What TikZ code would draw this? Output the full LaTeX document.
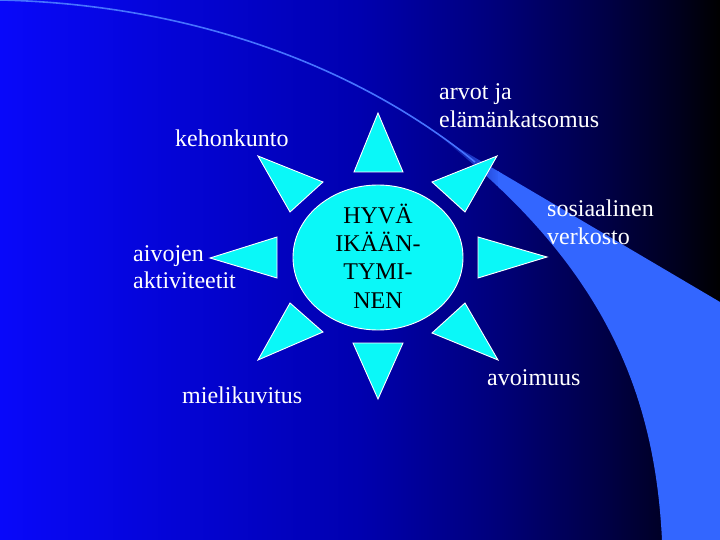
\documentclass[tikz,border=0pt]{standalone}
\usepackage{fontspec}
\setmainfont{Liberation Serif}
\usetikzlibrary{fadings}
\definecolor{bgA}{RGB}{8,8,250}
\definecolor{bgB}{RGB}{0,0,175}
\definecolor{bgC}{RGB}{0,0,125}
\definecolor{bgD}{RGB}{0,0,70}
\definecolor{bgE}{RGB}{0,0,30}
\definecolor{bandcol}{RGB}{51,102,255}
\definecolor{linecol}{RGB}{70,115,255}
\definecolor{suncyan}{RGB}{10,248,248}
\pgfdeclarehorizontalshading{bgshade}{100bp}{color(0bp)=(bgA); color(25bp)=(bgA); color(50bp)=(bgB); color(59bp)=(bgC); color(67bp)=(bgD); color(72bp)=(bgE); color(75bp)=(black); color(100bp)=(black)}
\tikzfading[name=tipfade, left color=transparent!100, right color=transparent!0]
\newcommand{\twolines}[2]{\vtop{\baselineskip=28pt\hbox{#1}\hbox{#2}}}
\newcommand{\cenline}[1]{\hbox to 0pt{\hss #1\hss}}
\begin{document}
\begin{tikzpicture}[x=1pt,y=-1pt,
  ray/.style={fill=suncyan, draw=white, line width=0.9pt, line join=miter},
  lbl/.style={text=white, inner sep=0pt, anchor=base west, font=\fontsize{24}{28}\selectfont}]
\useasboundingbox (0,0) rectangle (720,540);
% background
\shade[shading=bgshade] (0,0) rectangle (720,540);
% swoosh band
\begin{scope}
  \clip (440,137) -- (720,302) -- (720,540) -- (662,540)
        .. controls (655,400) and (610,270) .. (440,137) -- cycle;
  \fill[bandcol] (498,100) rectangle (720,540);
  \fill[bandcol, path fading=tipfade] (440,100) rectangle (500,260);
\end{scope}
\draw[linecol, line width=1.6pt] (0,0) .. controls (180,4) and (350,60) .. (475,162);
% sun rays
\draw[ray] (378,113) -- (354,172) -- (403,172) -- cycle;
\draw[ray] (497,156) -- (432,182) -- (465,212) -- cycle;
\draw[ray] (547,257) -- (478,237) -- (478,278) -- cycle;
\draw[ray] (465,303) -- (432,333) -- (498,360) -- cycle;
\draw[ray] (353,343) -- (403,343) -- (378,399) -- cycle;
\draw[ray] (290,303) -- (323,332) -- (258,360) -- cycle;
\draw[ray] (210,258) -- (277,237) -- (277,278) -- cycle;
\draw[ray] (258,156) -- (323,182) -- (290,212) -- cycle;
% centre
\draw[ray] (378,257.5) ellipse [x radius=85, y radius=72.5];
\node[inner sep=0pt, anchor=base, text=black, font=\fontsize{24}{28}\selectfont] (centre) at (378,223)
  {\vtop{\baselineskip=28.4pt\cenline{HYVÄ}\cenline{IKÄÄN-}\cenline{TYMI-}\cenline{NEN}}};
% labels
\node[lbl] (keho) at (175,147) {kehonkunto};
\node[lbl] (arvot) at (439,100) {\twolines{arvot ja}{elämänkatsomus}};
\node[lbl] (aivot) at (133,261) {\twolines{aivojen}{aktiviteetit}};
\node[lbl] (sosi) at (547,217) {\twolines{sosiaalinen}{verkosto}};
\node[lbl] (mieli) at (182,403) {mielikuvitus};
\node[lbl] (avoi) at (487,385) {avoimuus};
\end{tikzpicture}
\end{document}
